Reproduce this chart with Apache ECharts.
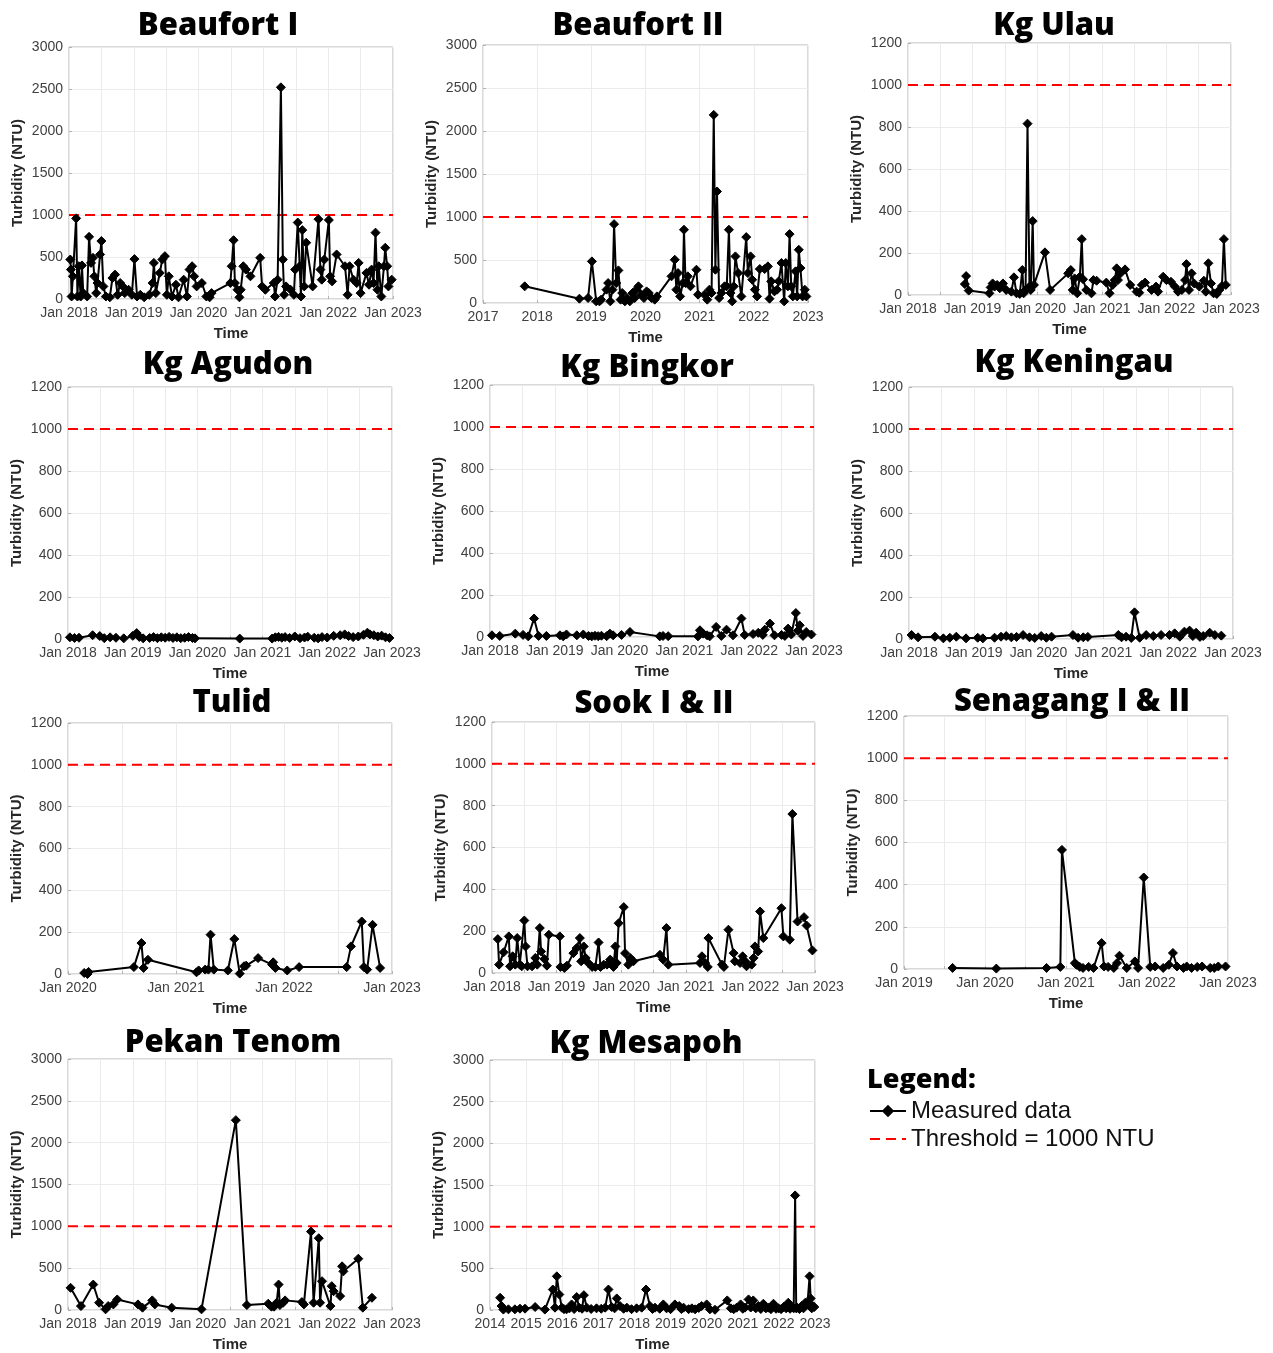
<!DOCTYPE html>
<html>
<head>
<meta charset="utf-8">
<title>Turbidity by station</title>
<script src="https://cdn.jsdelivr.net/npm/echarts@6/dist/echarts.min.js"></script>
<style>
  html, body { margin: 0; padding: 0; background: #fff; }
  #chart { width: 1273px; height: 1353px; }
</style>
</head>
<body>
<div id="chart"></div>
<script>
// panel titles, in reading order
const stations = ['Beaufort I', 'Beaufort II', 'Kg Ulau', 'Kg Agudon', 'Kg Bingkor', 'Kg Keningau',
  'Tulid', 'Sook I & II', 'Senagang I & II', 'Pekan Tenom', 'Kg Mesapoh'];

const threshold = 1000;

// measured turbidity: [decimal year, NTU]
const beaufort1 = [[2018.02,470],[2018.03,350],[2018.04,30],[2018.06,270],[2018.11,960],[2018.13,30],[2018.15,390],[2018.18,30],[2018.20,400],[2018.22,70],[2018.28,30],[2018.31,740],[2018.34,430],[2018.37,490],[2018.39,270],[2018.42,70],[2018.44,190],[2018.48,530],[2018.50,690],[2018.53,150],[2018.57,30],[2018.63,20],[2018.67,250],[2018.71,290],[2018.75,50],[2018.79,190],[2018.83,150],[2018.86,70],[2018.92,110],[2018.97,50],[2019.01,475],[2019.05,30],[2019.10,50],[2019.16,20],[2019.24,50],[2019.29,190],[2019.31,430],[2019.34,70],[2019.40,310],[2019.44,470],[2019.48,510],[2019.51,50],[2019.54,270],[2019.59,30],[2019.65,170],[2019.69,20],[2019.77,230],[2019.82,30],[2019.86,350],[2019.90,390],[2019.93,270],[2019.97,150],[2020.05,190],[2020.12,30],[2020.17,20],[2020.20,70],[2020.49,190],[2020.51,390],[2020.54,700],[2020.56,190],[2020.60,110],[2020.63,20],[2020.65,110],[2020.69,390],[2020.73,350],[2020.80,270],[2020.95,490],[2020.98,150],[2021.03,110],[2021.16,190],[2021.18,30],[2021.22,230],[2021.27,2520],[2021.30,470],[2021.32,50],[2021.35,150],[2021.42,110],[2021.47,50],[2021.49,350],[2021.53,910],[2021.56,390],[2021.58,30],[2021.60,820],[2021.63,150],[2021.66,670],[2021.76,150],[2021.85,950],[2021.88,350],[2021.90,230],[2021.94,470],[2022.01,940],[2022.03,270],[2022.06,210],[2022.13,530],[2022.26,390],[2022.30,50],[2022.33,390],[2022.39,230],[2022.44,190],[2022.47,430],[2022.50,70],[2022.59,310],[2022.63,170],[2022.67,350],[2022.70,190],[2022.73,790],[2022.76,110],[2022.78,390],[2022.82,30],[2022.86,390],[2022.88,610],[2022.91,390],[2022.93,150],[2022.98,230]];

const beaufort2 = [[2017.77,194],[2018.78,50],[2018.94,58],[2019.01,484],[2019.09,19],[2019.15,19],[2019.18,39],[2019.28,155],[2019.31,232],[2019.35,19],[2019.39,155],[2019.42,917],[2019.46,232],[2019.50,379],[2019.54,39],[2019.57,116],[2019.62,19],[2019.66,58],[2019.71,19],[2019.76,116],[2019.80,58],[2019.83,155],[2019.87,194],[2019.92,97],[2019.97,58],[2020.02,135],[2020.06,116],[2020.11,58],[2020.17,39],[2020.21,77],[2020.48,310],[2020.54,503],[2020.57,155],[2020.60,348],[2020.64,77],[2020.69,232],[2020.71,852],[2020.74,232],[2020.78,310],[2020.83,194],[2020.94,387],[2020.97,97],[2021.09,97],[2021.14,39],[2021.18,155],[2021.22,116],[2021.26,2187],[2021.29,387],[2021.32,1297],[2021.36,58],[2021.40,116],[2021.46,194],[2021.50,194],[2021.54,852],[2021.57,116],[2021.60,19],[2021.63,194],[2021.66,542],[2021.71,348],[2021.77,77],[2021.86,766],[2021.89,348],[2021.94,542],[2021.97,271],[2022.02,155],[2022.06,77],[2022.11,395],[2022.20,395],[2022.26,426],[2022.29,50],[2022.32,252],[2022.38,135],[2022.43,155],[2022.46,252],[2022.51,465],[2022.56,19],[2022.59,465],[2022.63,194],[2022.66,801],[2022.69,194],[2022.72,77],[2022.77,368],[2022.80,77],[2022.83,619],[2022.86,406],[2022.90,77],[2022.94,155],[2022.97,77]];

const kgUlau = [[2018.88,52],[2018.90,90],[2018.94,21],[2019.26,8],[2019.28,36],[2019.31,55],[2019.34,40],[2019.38,48],[2019.42,32],[2019.47,55],[2019.52,24],[2019.60,16],[2019.64,84],[2019.68,8],[2019.73,5],[2019.77,119],[2019.79,8],[2019.82,24],[2019.85,816],[2019.88,40],[2019.90,24],[2019.93,352],[2019.95,48],[2020.12,203],[2020.20,24],[2020.48,103],[2020.52,119],[2020.55,24],[2020.58,79],[2020.62,8],[2020.66,87],[2020.69,266],[2020.71,75],[2020.76,24],[2020.84,8],[2020.87,71],[2020.92,68],[2021.07,59],[2021.12,8],[2021.17,48],[2021.20,71],[2021.23,127],[2021.25,71],[2021.29,103],[2021.36,122],[2021.44,48],[2021.54,16],[2021.58,11],[2021.62,48],[2021.67,59],[2021.77,24],[2021.84,40],[2021.87,16],[2021.95,87],[2022.00,71],[2022.07,63],[2022.13,40],[2022.18,16],[2022.24,24],[2022.29,71],[2022.31,147],[2022.35,24],[2022.39,103],[2022.43,55],[2022.51,40],[2022.58,68],[2022.61,16],[2022.65,151],[2022.69,55],[2022.73,8],[2022.78,5],[2022.82,24],[2022.86,43],[2022.89,266],[2022.92,48]];

const kgAgudon = [[2018.03,8],[2018.10,5],[2018.17,6],[2018.38,18],[2018.49,14],[2018.56,4],[2018.65,8],[2018.74,6],[2018.86,3],[2019.00,15],[2019.06,28],[2019.10,10],[2019.16,3],[2019.26,5],[2019.32,9],[2019.38,4],[2019.44,8],[2019.50,6],[2019.56,10],[2019.62,5],[2019.68,8],[2019.74,4],[2019.80,6],[2019.86,9],[2019.92,5],[2019.96,3],[2020.65,2],[2021.15,2],[2021.20,8],[2021.25,10],[2021.30,6],[2021.35,9],[2021.42,5],[2021.50,12],[2021.58,4],[2021.65,7],[2021.70,11],[2021.80,6],[2021.86,3],[2021.92,9],[2022.00,7],[2022.10,15],[2022.20,18],[2022.27,22],[2022.33,14],[2022.40,9],[2022.48,12],[2022.56,20],[2022.62,30],[2022.66,22],[2022.72,18],[2022.78,12],[2022.84,16],[2022.90,8],[2022.96,5]];

const kgBingkor = [[2018.03,8],[2018.15,5],[2018.39,16],[2018.51,10],[2018.59,3],[2018.68,88],[2018.75,5],[2018.87,5],[2019.08,8],[2019.13,3],[2019.18,12],[2019.34,8],[2019.44,12],[2019.52,5],[2019.57,3],[2019.62,6],[2019.67,4],[2019.72,6],[2019.80,4],[2019.85,16],[2019.90,8],[2020.03,10],[2020.16,24],[2020.62,3],[2020.67,5],[2020.75,4],[2021.21,3],[2021.24,32],[2021.29,16],[2021.35,8],[2021.39,3],[2021.49,48],[2021.57,5],[2021.65,35],[2021.75,8],[2021.88,88],[2021.93,10],[2022.06,14],[2022.14,20],[2022.21,10],[2022.24,35],[2022.32,64],[2022.39,8],[2022.50,10],[2022.55,5],[2022.60,40],[2022.65,12],[2022.72,114],[2022.75,30],[2022.78,56],[2022.83,5],[2022.88,24],[2022.96,12]];

const kgKeningau = [[2018.04,19],[2018.14,8],[2018.40,11],[2018.53,3],[2018.63,6],[2018.73,11],[2018.88,3],[2019.06,6],[2019.14,3],[2019.32,6],[2019.42,11],[2019.50,14],[2019.58,8],[2019.66,10],[2019.76,19],[2019.86,8],[2019.94,5],[2020.04,14],[2020.12,6],[2020.20,11],[2020.53,19],[2020.61,6],[2020.69,8],[2020.76,10],[2021.23,19],[2021.28,8],[2021.35,11],[2021.43,5],[2021.48,127],[2021.56,6],[2021.66,19],[2021.77,14],[2021.89,19],[2022.02,19],[2022.10,27],[2022.18,11],[2022.25,35],[2022.33,40],[2022.38,14],[2022.43,30],[2022.49,10],[2022.54,14],[2022.64,30],[2022.72,19],[2022.82,16]];

const tulid = [[2020.15,5],[2020.18,0],[2020.19,10],[2020.61,33],[2020.68,148],[2020.70,29],[2020.74,68],[2021.19,8],[2021.21,17],[2021.27,21],[2021.30,21],[2021.32,188],[2021.35,21],[2021.48,17],[2021.54,167],[2021.59,2],[2021.63,37],[2021.65,40],[2021.76,76],[2021.89,45],[2021.90,56],[2021.92,29],[2022.03,17],[2022.14,33],[2022.58,33],[2022.62,132],[2022.72,251],[2022.74,33],[2022.77,21],[2022.82,235],[2022.89,29]];

const sook = [[2018.09,162],[2018.11,40],[2018.18,99],[2018.26,175],[2018.28,32],[2018.32,80],[2018.36,40],[2018.39,167],[2018.43,40],[2018.46,32],[2018.50,251],[2018.52,127],[2018.55,32],[2018.62,32],[2018.67,72],[2018.70,40],[2018.74,215],[2018.76,103],[2018.81,67],[2018.85,35],[2018.88,183],[2019.05,175],[2019.06,29],[2019.12,24],[2019.16,35],[2019.26,95],[2019.31,119],[2019.36,167],[2019.38,56],[2019.42,127],[2019.45,72],[2019.49,48],[2019.55,29],[2019.60,29],[2019.65,146],[2019.68,29],[2019.73,40],[2019.78,40],[2019.83,64],[2019.88,29],[2019.91,127],[2019.93,48],[2019.96,238],[2020.04,315],[2020.06,95],[2020.11,40],[2020.14,72],[2020.19,56],[2020.60,87],[2020.65,64],[2020.70,215],[2020.73,40],[2021.22,48],[2021.25,80],[2021.30,48],[2021.34,29],[2021.35,167],[2021.56,40],[2021.59,29],[2021.66,207],[2021.74,95],[2021.76,56],[2021.84,48],[2021.88,80],[2021.92,56],[2021.94,32],[2022.02,40],[2022.05,72],[2022.07,127],[2022.12,103],[2022.15,294],[2022.20,167],[2022.48,310],[2022.51,175],[2022.61,159],[2022.65,760],[2022.73,246],[2022.83,267],[2022.87,227],[2022.96,108]];

const senagang = [[2019.60,5],[2020.14,2],[2020.76,5],[2020.93,10],[2020.95,565],[2021.11,28],[2021.13,20],[2021.17,10],[2021.21,5],[2021.28,10],[2021.34,5],[2021.44,123],[2021.47,12],[2021.52,10],[2021.59,5],[2021.63,28],[2021.66,63],[2021.75,5],[2021.85,36],[2021.89,5],[2021.96,434],[2022.04,10],[2022.10,12],[2022.20,5],[2022.27,20],[2022.32,76],[2022.37,12],[2022.45,5],[2022.49,12],[2022.55,5],[2022.62,10],[2022.68,12],[2022.78,5],[2022.83,5],[2022.88,12],[2022.97,12]];

const pekanTenom = [[2018.04,265],[2018.20,47],[2018.39,304],[2018.48,87],[2018.58,8],[2018.62,47],[2018.70,67],[2018.76,126],[2019.08,67],[2019.15,28],[2019.30,115],[2019.34,67],[2019.60,28],[2020.06,8],[2020.59,2269],[2020.76,59],[2021.09,75],[2021.14,40],[2021.18,40],[2021.22,87],[2021.25,304],[2021.27,59],[2021.32,87],[2021.35,115],[2021.61,95],[2021.64,67],[2021.75,937],[2021.79,87],[2021.87,858],[2021.89,87],[2021.92,344],[2022.05,47],[2022.07,285],[2022.10,225],[2022.20,166],[2022.23,522],[2022.25,462],[2022.48,613],[2022.55,28],[2022.69,146]];

const kgMesapoh = [[2014.28,147],[2014.32,48],[2014.37,5],[2014.51,8],[2014.69,8],[2014.83,16],[2014.97,16],[2015.25,36],[2015.52,5],[2015.74,246],[2015.80,28],[2015.85,404],[2015.92,186],[2015.99,28],[2016.05,10],[2016.12,8],[2016.20,20],[2016.26,67],[2016.33,12],[2016.40,155],[2016.47,28],[2016.55,15],[2016.60,178],[2016.68,28],[2016.80,12],[2016.95,20],[2017.08,15],[2017.19,28],[2017.28,246],[2017.37,36],[2017.45,20],[2017.51,139],[2017.60,48],[2017.70,15],[2017.79,28],[2017.92,10],[2018.06,20],[2018.20,28],[2018.32,246],[2018.43,48],[2018.50,12],[2018.57,28],[2018.70,15],[2018.80,67],[2018.89,20],[2019.00,10],[2019.12,67],[2019.24,48],[2019.30,12],[2019.36,28],[2019.50,10],[2019.59,20],[2019.68,8],[2019.78,25],[2019.86,48],[2020.00,67],[2020.09,8],[2020.23,3],[2020.57,115],[2020.67,20],[2020.75,10],[2020.83,28],[2020.94,67],[2021.00,15],[2021.06,28],[2021.16,127],[2021.22,30],[2021.29,115],[2021.36,20],[2021.43,48],[2021.50,12],[2021.57,75],[2021.64,20],[2021.71,28],[2021.78,10],[2021.85,75],[2021.92,15],[2021.99,20],[2022.06,10],[2022.13,36],[2022.20,20],[2022.26,87],[2022.31,15],[2022.36,36],[2022.41,20],[2022.45,1375],[2022.48,20],[2022.51,28],[2022.57,12],[2022.63,48],[2022.68,20],[2022.73,87],[2022.79,67],[2022.85,404],[2022.88,139],[2022.91,20],[2022.94,48],[2022.98,36]];

// panel layout: plot box [left, top, width, height], title centre [x, y],
// x range [min, max, grid step], 'jan' = "Jan YYYY" labels, y max
const panels = [
  { data: beaufort1, box: [69, 47, 324, 252], tc: [218, 26], x: [2018, 2023, 0.5], jan: true, yMax: 3000 },
  { data: beaufort2, box: [483, 45, 325, 258], tc: [638, 26], x: [2017, 2023, 1], jan: false, yMax: 3000 },
  { data: kgUlau, box: [908, 43, 323, 252], tc: [1054, 26], x: [2018, 2023, 0.5], jan: true, yMax: 1200 },
  { data: kgAgudon, box: [68, 387, 324, 252], tc: [228, 365], x: [2018, 2023, 0.5], jan: true, yMax: 1200 },
  { data: kgBingkor, box: [490, 385, 324, 252], tc: [647, 368], x: [2018, 2023, 0.5], jan: true, yMax: 1200 },
  { data: kgKeningau, box: [909, 387, 324, 252], tc: [1074, 363], x: [2018, 2023, 0.5], jan: true, yMax: 1200 },
  { data: tulid, box: [68, 723, 324, 251], tc: [232, 703], x: [2020, 2023, 0.5], jan: true, yMax: 1200 },
  { data: sook, box: [492, 722, 323, 251], tc: [654, 704], x: [2018, 2023, 0.5], jan: true, yMax: 1200 },
  { data: senagang, box: [904, 716, 324, 253], tc: [1072, 702], x: [2019, 2023, 0.5], jan: true, yMax: 1200 },
  { data: pekanTenom, box: [68, 1059, 324, 253], tc: [233, 1043], x: [2018, 2023, 0.5], jan: true, yMax: 3000 },
  { data: kgMesapoh, box: [490, 1060, 325, 252], tc: [646, 1044], x: [2014, 2023, 1], jan: false, yMax: 3000 }
];

const labelFont = 'Liberation Sans, Arial, sans-serif';
const titleFont = 'Open Sans, Lato, sans-serif';

const option = {
  animation: false,
  backgroundColor: '#fff',
  title: [],
  grid: [],
  xAxis: [],
  yAxis: [],
  series: [],
  legend: {
    orient: 'vertical',
    left: 869,
    top: 1099,
    padding: 0,
    itemWidth: 36,
    itemHeight: 12,
    itemGap: 4,
    selectedMode: false,
    data: [
      'Measured data',
      { name: 'Threshold = 1000 NTU', itemStyle: { opacity: 0 } }
    ],
    textStyle: { fontFamily: labelFont, fontSize: 24, color: '#111' }
  }
};

option.title.push({
  text: 'Legend:', left: 867, top: 1080, textAlign: 'left', textVerticalAlign: 'middle', padding: 0,
  textStyle: { fontFamily: titleFont, fontWeight: 800, fontSize: 27, color: '#000' }
});

panels.forEach((p, i) => {
  option.title.push({
    text: stations[i], left: p.tc[0], top: p.tc[1], textAlign: 'center', textVerticalAlign: 'middle', padding: 0,
    textStyle: { fontFamily: titleFont, fontWeight: 800, fontSize: 31, color: '#000' }
  });
  option.grid.push({
    left: p.box[0], top: p.box[1], width: p.box[2], height: p.box[3],
    show: true, borderColor: '#b3b3b3', borderWidth: 1, backgroundColor: '#fff'
  });
  option.xAxis.push({
    type: 'value', gridIndex: i, min: p.x[0], max: p.x[1], interval: p.x[2],
    name: 'Time', nameLocation: 'middle', nameGap: 27,
    nameTextStyle: { fontFamily: labelFont, fontWeight: 'bold', fontSize: 15, color: '#262626' },
    axisLine: { show: false },
    axisTick: { inside: true, length: 3, lineStyle: { color: '#b3b3b3' } },
    axisLabel: {
      margin: 7, fontFamily: labelFont, fontSize: 14, color: '#404040',
      formatter: v => {
        if (Math.abs(v - Math.round(v)) > 1e-6) return '';
        return p.jan ? 'Jan ' + Math.round(v) : String(Math.round(v));
      }
    },
    splitLine: { show: true, lineStyle: { color: '#ebebeb', width: 1 } }
  });
  option.yAxis.push({
    type: 'value', gridIndex: i, min: 0, max: p.yMax, interval: p.yMax === 3000 ? 500 : 200,
    name: 'Turbidity (NTU)', nameLocation: 'middle', nameGap: 44,
    nameTextStyle: { fontFamily: labelFont, fontWeight: 'bold', fontSize: 15, color: '#262626' },
    axisLine: { show: false },
    axisTick: { inside: true, length: 3, lineStyle: { color: '#b3b3b3' } },
    axisLabel: { margin: 6, fontFamily: labelFont, fontSize: 14, color: '#404040', formatter: v => String(v) },
    splitLine: { show: true, lineStyle: { color: '#ebebeb', width: 1 } }
  });
  option.series.push({
    name: 'Threshold = 1000 NTU', type: 'line', xAxisIndex: i, yAxisIndex: i,
    data: [[p.x[0], threshold], [p.x[1], threshold]],
    symbol: 'none', silent: true,
    lineStyle: { color: '#ff0000', width: 2, type: [10, 6] },
    itemStyle: { color: '#ff0000' }
  });
  option.series.push({
    name: 'Measured data', type: 'line', xAxisIndex: i, yAxisIndex: i,
    data: p.data,
    symbol: 'diamond', symbolSize: 9, showSymbol: true,
    lineStyle: { color: '#000', width: 2 },
    itemStyle: { color: '#000', borderColor: '#000', borderWidth: 1 }
  });
});

const chart = echarts.init(document.getElementById('chart'));
chart.setOption(option);
</script>
</body>
</html>
